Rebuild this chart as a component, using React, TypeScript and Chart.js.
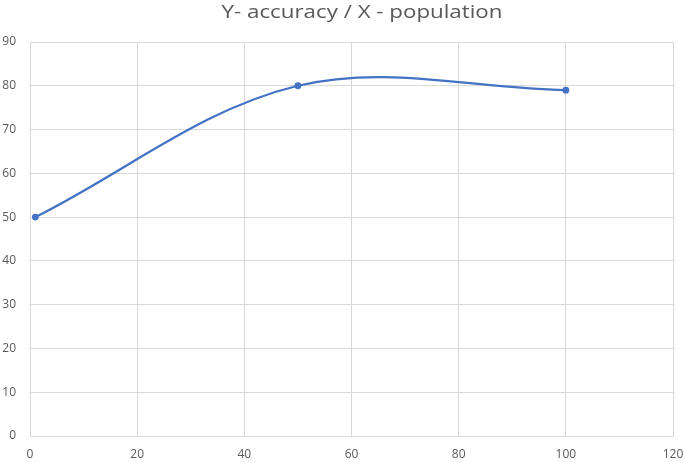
import React, { useEffect, useRef } from "react";
import { Chart, registerables } from "chart.js";

Chart.register(...registerables);

const titleText = "Y- accuracy / X - population";
const populationValues = [1, 50, 100];
const accuracyValues = [50, 80, 79];
const xMin = 0, xMax = 120, xStep = 20;
const yMin = 0, yMax = 90, yStep = 10;

const FONT = "'Open Sans', 'Noto Sans', sans-serif";
const TEXT = "#595959";
const GRID = "#d9d9d9";
const BLUE = "#4472C4";

const titlePlugin = {
  id: "wideTitle",
  afterDraw(chart: any) {
    const ctx = chart.ctx as CanvasRenderingContext2D;
    ctx.save();
    ctx.fillStyle = TEXT;
    ctx.font = `18px ${FONT}`;
    ctx.textAlign = "center";
    ctx.textBaseline = "alphabetic";
    ctx.translate(362, 18);
    ctx.scale(1.24, 1);
    ctx.fillText(titleText, 0, 0);
    ctx.restore();
  },
};

export default function App() {
  const ref = useRef<HTMLCanvasElement | null>(null);
  useEffect(() => {
    document.body.style.margin = "0";
    const ctx = ref.current!;
    const chart = new Chart(ctx, {
      type: "scatter",
      data: {
        datasets: [
          {
            label: "accuracy",
            data: populationValues.map((x, i) => ({ x, y: accuracyValues[i] })),
            showLine: true,
            borderColor: BLUE,
            backgroundColor: BLUE,
            borderWidth: 2.25,
            pointRadius: 2.3,
            pointHoverRadius: 2.3,
            tension: 0.35,
          },
        ],
      },
      options: {
        responsive: false,
        animation: false,
        layout: { padding: { left: 0, right: 0, top: 42, bottom: 0 } },
        plugins: {
          legend: { display: false },
          tooltip: { enabled: false },
          title: { display: false },
        },
        scales: {
          x: {
            type: "linear",
            min: xMin,
            max: xMax,
            ticks: { stepSize: xStep, color: TEXT, font: { family: FONT, size: 12 }, padding: 11, maxRotation: 0 },
            grid: { color: GRID, drawTicks: false, lineWidth: 1 },
            border: { color: GRID },
            afterFit: (s: any) => { s.height = 27; s.paddingRight = 12; s.paddingLeft = 0; },
          },
          y: {
            type: "linear",
            min: yMin,
            max: yMax,
            ticks: { stepSize: yStep, color: TEXT, font: { family: FONT, size: 12 }, padding: 14 },
            grid: { color: GRID, drawTicks: false, lineWidth: 1 },
            border: { color: GRID },
            afterFit: (s: any) => { s.width = 30; },
          },
        },
      },
      plugins: [titlePlugin],
    });
    return () => chart.destroy();
  }, []);
  return (
    <div style={{ position: "absolute", left: 0, top: 0, width: 685, height: 463, background: "#fff" }}>
      <canvas ref={ref} width={685} height={463} />
    </div>
  );
}
